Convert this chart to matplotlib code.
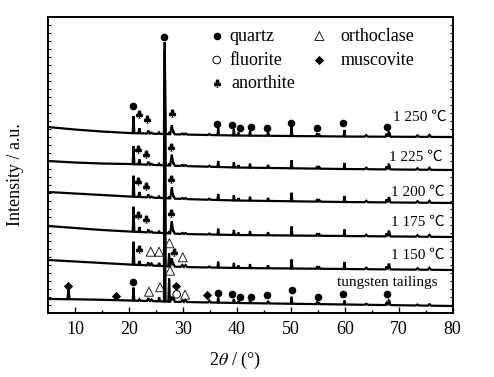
# -----------------------------------------------------------------------------
# XRD patterns of tungsten tailings and the sintered samples
# plot.py

import matplotlib
matplotlib.use("Agg")
import matplotlib.pyplot as plt
import numpy as np

plt.rcParams["font.family"] = ["Liberation Serif", "Noto Sans CJK SC"]
plt.rcParams["mathtext.fontset"] = "stix"


            # ---           DATA           --- #
# Trace names (top to bottom) and the text written at the right of each trace.
Labels = ["1 250 ℃", "1 225 ℃", "1 200 ℃", "1 175 ℃", "1 150 ℃", "tungsten tailings"]
Label_x = [69.0, 68.2, 68.6, 68.6, 68.6, 58.6]
Label_y = [196, 156, 121, 91, 58, 30]

# Background level of each trace (stacked offset units) read at these angles.
Bg_x = [5, 10, 15, 20, 30, 40, 60, 80]
Bg_1250 = [186, 183.5, 181.5, 180, 178.5, 177.5, 176.5, 176]
Bg_1225 = [152, 150.5, 149.5, 149, 147, 145.5, 144, 143]
Bg_1200 = [121, 119.5, 118, 116.5, 114, 112.5, 111, 110]
Bg_1175 = [87, 85, 83, 81.5, 79, 78, 77, 76]
Bg_1150 = [53, 51.5, 50, 48.5, 46, 45, 44, 43]
Bg_tail = [14, 13.7, 13.2, 12.5, 11, 10, 8.5, 7]

# Diffraction peaks: position (2theta), half width and height in each trace.
Peak_x = [8.8, 17.8, 20.85, 21.95, 23.6, 24.2, 25.6, 26.64, 27.45, 27.95, 28.3,
          29.9, 30.5, 34.9, 36.55, 39.45, 40.3, 42.45, 45.8, 50.15, 54.9, 55.3,
          59.95, 64.0, 67.75, 68.15, 68.3, 73.5, 75.7]
Peak_w = [0.2, 0.2, 0.15, 0.2, 0.25, 0.25, 0.2, 0.15, 0.15, 0.3, 0.2,
          0.3, 0.3, 0.25, 0.15, 0.15, 0.15, 0.15, 0.2, 0.15, 0.2, 0.2,
          0.15, 0.3, 0.2, 0.2, 0.2, 0.3, 0.3]
H_1250 = [0, 0, 17, 5, 3, 1, 1.5, 92, 2, 9, 2,
          1, 1, 1, 7, 6, 3, 4.5, 3.5, 9, 3, 1.5,
          6.5, 1.5, 3, 4, 3, 1.5, 2]
H_1225 = [0, 0, 18, 5, 3, 1, 1.5, 115, 2, 11, 2,
          1, 1, 1, 6, 5, 2.5, 4, 3, 8, 2.5, 1.5,
          6, 1.5, 3, 4, 3, 1.5, 2]
H_1200 = [0, 0, 21, 5, 3, 1, 1.5, 115, 2, 11, 2,
          1, 1, 1, 6, 5, 2.5, 4, 3, 8.5, 2.5, 1.5,
          6, 1.5, 3, 4.5, 3, 1.5, 2]
H_1175 = [0, 0, 25, 5, 3, 1, 1.5, 115, 2, 12, 2,
          1, 1, 1, 6, 5, 2.5, 4, 3, 9, 2.5, 1.5,
          6.5, 1.5, 3, 5, 3, 1.5, 2]
H_1150 = [0, 0, 23, 4, 3, 2, 3, 115, 13, 8, 2,
          2, 2, 1, 6, 5, 2.5, 4, 3, 9, 2.5, 1.5,
          7, 1.5, 3, 5, 3, 1.5, 2]
H_tail = [9, 3, 13, 1.5, 3, 1.5, 4, 110, 23, 5, 4,
          1.5, 2, 2, 5, 4, 2, 3, 2.5, 7, 2, 1,
          4, 1, 2, 4, 3, 1, 1.5]

Backgrounds = [Bg_1250, Bg_1225, Bg_1200, Bg_1175, Bg_1150, Bg_tail]
Heights = [H_1250, H_1225, H_1200, H_1175, H_1150, H_tail]

# Phase marks (2theta, stacked height).
Quartz_x = [20.82, 26.57, 36.39, 39.17, 40.60, 42.59, 45.66, 50.06, 54.82, 59.76, 67.92,
            20.82, 36.58, 39.17, 40.60, 42.59, 45.55, 50.19, 55.00, 59.76, 67.92]
Quartz_y = [207.3, 276.3, 189, 187.7, 184.7, 186.3, 184.7, 189.7, 184.7, 189.7, 186.3,
            30.7, 20.3, 19, 15.7, 16, 18, 23, 16.3, 18.7, 18.7]
Anorth_x = [21.87, 23.30, 27.94, 21.74, 23.17, 27.81, 21.74, 23.17, 27.81,
            21.74, 23.17, 27.81, 21.90, 28.42]
Anorth_y = [198.7, 193.7, 200.3, 164, 159.5, 165.7, 132, 127.5, 133.7,
            98, 93.7, 99.7, 63.7, 61.3]
Orth_x = [24.04, 25.58, 27.49, 29.98, 23.73, 25.77, 27.62, 30.40]
Orth_y = [61.3, 61.3, 69.7, 55.7, 21.3, 25.7, 42.3, 18.3]
Fluor_x = [28.86]
Fluor_y = [18.7]
Musc_x = [8.65, 17.61, 28.68, 34.43]
Musc_y = [27, 17.3, 27, 18]


            # ---           PLOT           --- #
fig = plt.figure(figsize=(4.94, 3.77), dpi=100)
ax = fig.add_axes([0.0972, 0.1698, 0.819, 0.785])

Peak_x = np.array(Peak_x)
Peak_w = np.array(Peak_w)

for Bg, H in zip(Backgrounds, Heights):
    # vertices: background knots plus the foot and top of each peak
    X = np.sort(np.concatenate([Bg_x, Peak_x - Peak_w, Peak_x, Peak_x + Peak_w]))
    Y = np.interp(X, Bg_x, Bg)
    for p, w, h in zip(Peak_x, Peak_w, H):
        Y += h * np.clip(1 - np.abs(X - p) / w, 0, None)
    ax.plot(X, Y, color="k", lw=1.6, solid_joinstyle="miter")

for i, val in enumerate(Labels):
    ax.text(Label_x[i], Label_y[i], val, fontsize=11, va="center", ha="left")

# Phase markers
Dot = dict(s=30, marker="o", color="k", linewidths=0, zorder=3)
Club = dict(s=36, marker=r"$\clubsuit$", color="k", linewidths=0, zorder=3)
Tri = dict(s=42, marker="^", facecolor="none", edgecolor="k", lw=0.6, zorder=3)
Ring = dict(s=30, marker="o", facecolor="none", edgecolor="k", lw=0.7, zorder=3)
Dia = dict(s=22, marker="D", color="k", linewidths=0, zorder=3)

ax.scatter(Quartz_x, Quartz_y, **Dot)
ax.scatter(Anorth_x, Anorth_y, **Club)
ax.scatter(Orth_x, Orth_y, **Tri)
ax.scatter(Fluor_x, Fluor_y, **Ring)
ax.scatter(Musc_x, Musc_y, **Dia)

# Legend drawn by hand in the top right corner.
ax.scatter([36.28], [277], **Dot)
ax.scatter([36.28], [253], **Ring)
ax.scatter([36.28], [230], **Club)
ax.scatter([55.3], [277], **Tri)
ax.scatter([55.3], [253], **Dia)
ax.text(38.6, 277, "quartz", fontsize=13, va="center")
ax.text(38.6, 253, "fluorite", fontsize=13, va="center")
ax.text(38.9, 230, "anorthite", fontsize=13, va="center")
ax.text(59.2, 277, "orthoclase", fontsize=13, va="center")
ax.text(59.2, 253, "muscovite", fontsize=13, va="center")

ax.set_xlim(5, 80)
ax.set_ylim(0, 296)
ax.set_xticks(np.arange(10, 81, 10))
ax.set_xticks(np.arange(15, 80, 10), minor=True)
ax.set_yticks(np.arange(8, 296, 8))
ax.set_yticklabels([])
ax.tick_params(axis="x", which="major", direction="in", length=4, width=1,
               labelsize=13, pad=6)
ax.tick_params(axis="x", which="minor", direction="in", length=2, width=1)
ax.tick_params(axis="y", direction="in", length=2, width=0.8, left=True, right=True)
for s in ax.spines.values():
    s.set_linewidth(1.4)

ax.set_xlabel(r"2$\theta$ / (°)", fontsize=13)
ax.xaxis.set_label_coords(0.463, -0.125)
ax.set_ylabel("Intensity / a.u.", fontsize=13)
ax.yaxis.set_label_coords(-0.06, 0.466)

fig.savefig("out.png", dpi=100)
